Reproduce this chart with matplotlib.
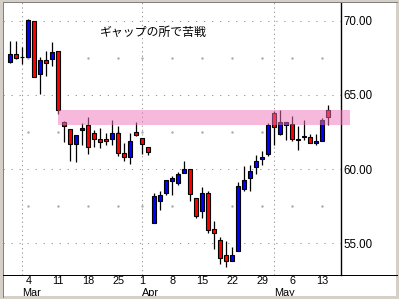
import numpy as np
import pandas as pd
import matplotlib
matplotlib.use("Agg")
import matplotlib.pyplot as plt
from matplotlib.patches import Rectangle
from matplotlib.lines import Line2D
import matplotlib.transforms as mtransforms

# trading days shown (Good Friday 2002-03-29 missing)
dates = ["2002-02-27", "2002-02-28", "2002-03-01", "2002-03-04", "2002-03-05", "2002-03-06",
         "2002-03-07", "2002-03-08", "2002-03-11", "2002-03-12", "2002-03-13", "2002-03-14",
         "2002-03-15", "2002-03-18", "2002-03-19", "2002-03-20", "2002-03-21", "2002-03-22",
         "2002-03-25", "2002-03-26", "2002-03-27", "2002-03-28", "2002-04-01", "2002-04-02",
         "2002-04-03", "2002-04-04", "2002-04-05", "2002-04-08", "2002-04-09", "2002-04-10",
         "2002-04-11", "2002-04-12", "2002-04-15", "2002-04-16", "2002-04-17", "2002-04-18",
         "2002-04-19", "2002-04-22", "2002-04-23", "2002-04-24", "2002-04-25", "2002-04-26",
         "2002-04-29", "2002-04-30", "2002-05-01", "2002-05-02", "2002-05-03", "2002-05-06",
         "2002-05-07", "2002-05-08", "2002-05-09", "2002-05-10", "2002-05-13", "2002-05-14"]

opens = [67.23, 67.77, 67.55, 67.57, 70.00, 66.40, 67.36, 67.41, 67.97, 63.20, 62.70, 61.69,
         62.64, 62.97, 62.43, 62.03, 62.03, 62.03, 62.43, 61.08, 60.83, 62.48, 62.10, 61.49,
         56.37, 57.84, 58.42, 59.19, 59.03, 59.73, 59.98, 58.04, 57.18, 58.42, 55.97, 55.23,
         54.23, 53.78, 54.48, 58.63, 59.39, 60.14, 60.68, 61.00, 63.78, 62.39, 62.97, 63.04,
         62.03, 62.14, 62.18, 61.73, 61.90, 63.99]
highs = [68.60, 68.60, 68.24, 70.13, 70.00, 67.57, 67.97, 68.54, 67.97, 63.24, 62.70, 62.30,
         63.10, 63.54, 62.66, 62.75, 62.43, 63.33, 62.93, 61.78, 62.43, 63.20, 62.10, 61.49,
         58.42, 58.54, 59.28, 59.53, 59.77, 60.54, 59.98, 58.04, 58.78, 58.49, 56.53, 55.43,
         55.18, 54.77, 59.14, 60.18, 60.27, 60.92, 61.19, 63.09, 63.90, 64.00, 63.20, 63.58,
         62.93, 63.33, 62.39, 62.39, 63.45, 64.35]
lows = [67.12, 67.43, 67.10, 67.57, 66.19, 65.09, 66.28, 66.96, 63.74, 61.80, 60.52, 60.45,
        61.60, 61.04, 61.49, 61.44, 61.64, 61.64, 60.88, 60.54, 60.34, 62.20, 60.99, 60.92,
        56.37, 57.23, 58.22, 58.22, 58.94, 59.73, 57.84, 56.67, 56.67, 55.72, 54.62, 53.63,
        53.38, 53.78, 54.48, 58.49, 58.54, 59.68, 60.27, 60.88, 61.64, 62.30, 61.98, 61.90,
        61.28, 61.98, 61.73, 61.64, 61.90, 62.95]
closes = [67.77, 67.50, 67.55, 70.07, 66.19, 67.36, 67.16, 67.86, 63.99, 62.93, 61.69, 62.30,
          62.79, 61.49, 62.03, 61.82, 61.90, 62.43, 61.08, 60.83, 61.90, 62.30, 61.69, 61.17,
          58.18, 58.22, 59.28, 59.39, 59.68, 59.98, 58.33, 56.87, 58.38, 55.88, 55.68, 54.03,
          53.78, 54.19, 58.83, 59.28, 59.89, 60.54, 60.83, 63.00, 62.84, 63.20, 63.20, 62.03,
          61.94, 62.23, 61.78, 61.90, 63.29, 63.49]

gap_low, gap_high = 62.95, 64.00
gap_start = "2002-03-11"
note = "ギャップの所で苦戦"
y_ticks = [55, 60, 65, 70]
y_minor = [57.5, 62.5, 67.5]

W, H = 399, 299
fig = plt.figure(figsize=(W / 100, H / 100), dpi=100, facecolor="white")
ax = fig.add_axes([3 / W, (H - 275) / H, 338 / W, 273 / H])

d = pd.to_datetime(dates)
x = np.arange(len(d))
o = np.array(opens)
c = np.array(closes)
up = c > o
colors = np.where(up, "#0000ff", "#ff0000")
heights = np.where(np.abs(c - o) < 0.03, 0.03, c - o)

ax.vlines(x, lows, highs, color="black", lw=0.9, zorder=2)
ax.bar(x, heights, bottom=o, width=0.72, color=colors, edgecolor="black",
       linewidth=0.8, zorder=3)

# gap zone, drawn translucent over the candles
gx = list(d).index(pd.Timestamp(gap_start))
ax.add_patch(Rectangle((gx, gap_low), 56.57 - gx, gap_high - gap_low,
                       facecolor="#ef74bb", alpha=0.5, lw=0, zorder=4, clip_on=False))

ax.set_xlim(-1.22, 55.12)
ax.set_ylim(52.86, 71.26)

# grid
for yv in y_ticks:
    ax.axhline(yv, color="#999999", lw=0.75, ls=(0, (1.2, 6.5)), zorder=1)
mondays = x[d.dayofweek == 0]
for yv in y_minor:
    ax.plot(mondays, [yv] * len(mondays), ls="none", marker="s", ms=0.7,
            color="#aaaaaa", zorder=1)
month_first = [i for i in range(len(d)) if i == 0 or d[i].month != d[i - 1].month][1:]
for i in month_first:
    ax.axvline(i, color="#999999", lw=0.75, ls=(0, (1.2, 3)), zorder=1)

ax.set_xticks(mondays)
ax.set_xticklabels([str(d[i].day) for i in mondays])
ax.yaxis.tick_right()
ax.set_yticks(y_ticks)
ax.set_yticklabels([f"{v:.2f}" for v in y_ticks])
ax.tick_params(axis="y", length=0, labelsize=8.3, pad=2)
ax.tick_params(axis="x", length=0, labelsize=7.8, pad=1)
for lab in ax.get_xticklabels() + ax.get_yticklabels():
    lab.set_fontfamily("Liberation Sans")

trans = mtransforms.blended_transform_factory(ax.transData, ax.transAxes)
for i in month_first:
    ax.text(i - 0.1, -0.049, d[i].strftime("%b"), transform=trans, ha="left", va="top",
            fontsize=7.8, family="Liberation Sans")

ax.text(0.287, 0.89, note, transform=ax.transAxes, fontsize=8.6,
        family=["Noto Sans CJK JP", "DejaVu Sans"], va="center", ha="left")

for s in ["left", "top", "bottom"]:
    ax.spines[s].set_visible(False)
ax.spines["right"].set_color("black")
ax.spines["right"].set_linewidth(1.0)

# frame around the panel
def px_line(x0, y0, x1, y1, color, lw=1.0):
    fig.add_artist(Line2D([x0 / W, x1 / W], [1 - y0 / H, 1 - y1 / H],
                          transform=fig.transFigure, color=color, lw=lw * 0.72))

fig.add_artist(Rectangle((0, 0), 1, 1, transform=fig.transFigure, fill=False,
                         edgecolor="#d4d0c8", lw=4.3))
px_line(3, 2, 3, 296.5, "#808080")
px_line(3, 2, 396.5, 2, "#808080")
px_line(3, 275.3, 396.5, 275.3, "black")

fig.savefig("out.png", dpi=100, facecolor="white")
